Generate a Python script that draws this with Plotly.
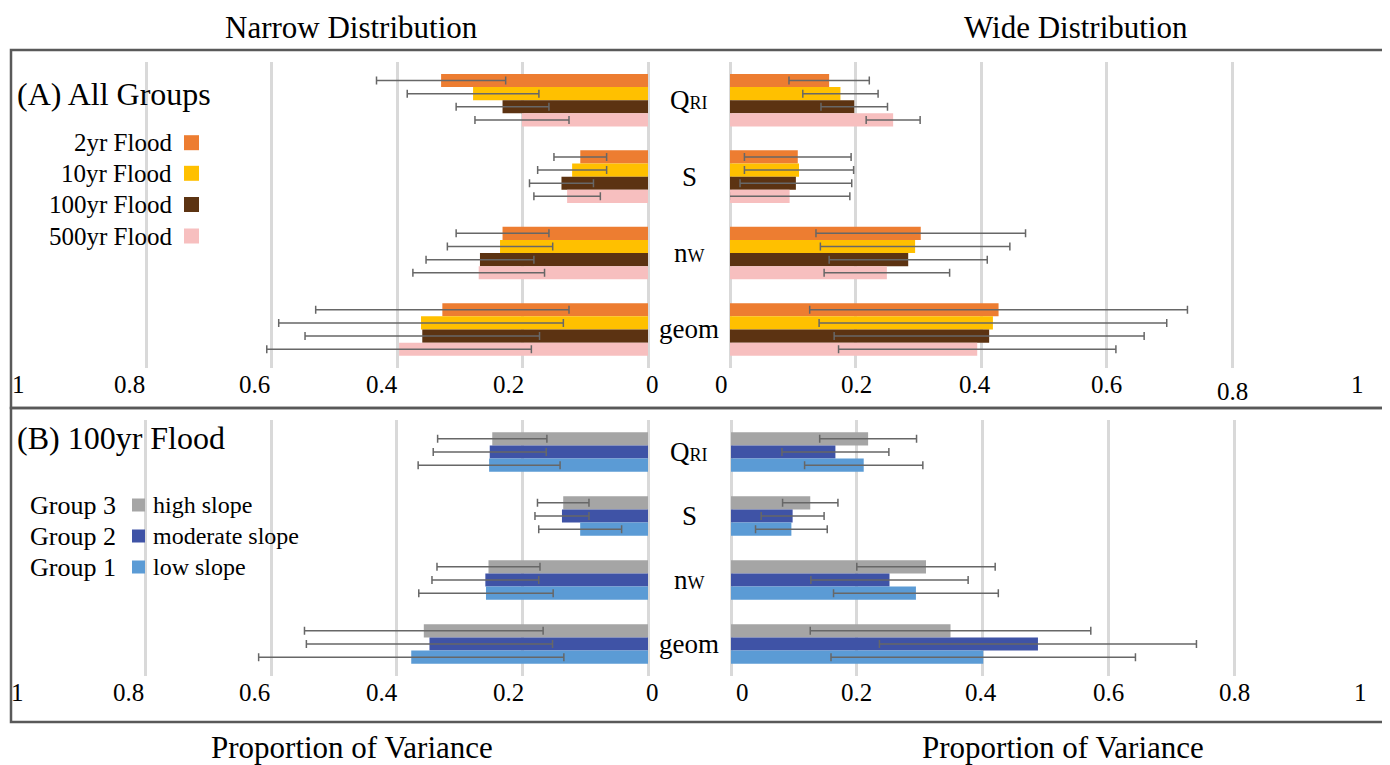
import plotly.graph_objects as go

# ---------------- data ----------------
categories = ["Q_RI", "S", "n_w", "geom"]
cat_labels = ['Q<span style="font-size:18px">RI</span>', "S",
              'n<span style="font-size:18px">W</span>', "geom"]
tick_vals = [0, 0.2, 0.4, 0.6, 0.8, 1]
tick_text = ["0", "0.2", "0.4", "0.6", "0.8", "1"]

flood_names = ["2yr Flood", "10yr Flood", "100yr Flood", "500yr Flood"]
group_names = ["Group 3", "Group 2", "Group 1"]
group_slopes = ["high slope", "moderate slope", "low slope"]

# Panel A, narrow distribution (rows: 2yr, 10yr, 100yr, 500yr)
a_narrow_mean = [[0.330, 0.108, 0.232, 0.328],
                 [0.279, 0.121, 0.236, 0.362],
                 [0.232, 0.138, 0.268, 0.360],
                 [0.201, 0.129, 0.270, 0.397]]
a_narrow_err = [[0.103, 0.042, 0.074, 0.202],
                [0.105, 0.055, 0.084, 0.227],
                [0.074, 0.051, 0.086, 0.187],
                [0.075, 0.053, 0.105, 0.211]]
# Panel A, wide distribution
a_wide_mean = [[0.158, 0.108, 0.304, 0.428],
               [0.176, 0.110, 0.295, 0.419],
               [0.198, 0.105, 0.284, 0.413],
               [0.260, 0.095, 0.250, 0.394]]
a_wide_err = [[0.064, 0.085, 0.167, 0.301],
              [0.060, 0.087, 0.151, 0.277],
              [0.053, 0.089, 0.126, 0.247],
              [0.043, 0.096, 0.100, 0.221]]
# Panel B, narrow distribution (rows: Group 3, Group 2, Group 1)
b_narrow_mean = [[0.248, 0.135, 0.254, 0.357],
                 [0.252, 0.137, 0.259, 0.348],
                 [0.253, 0.108, 0.258, 0.377]]
b_narrow_err = [[0.087, 0.041, 0.082, 0.190],
                [0.090, 0.043, 0.085, 0.196],
                [0.113, 0.066, 0.107, 0.243]]
# Panel B, wide distribution
b_wide_mean = [[0.218, 0.126, 0.310, 0.349],
               [0.166, 0.098, 0.252, 0.488],
               [0.211, 0.096, 0.294, 0.401]]
b_wide_err = [[0.077, 0.044, 0.110, 0.223],
              [0.085, 0.050, 0.125, 0.252],
              [0.094, 0.057, 0.131, 0.242]]

# ---------------- styles ----------------
flood_colors = ["#ED7D31", "#FFC000", "#5C3312", "#F7BFBF"]
group_colors = ["#A5A5A5", "#3F53A6", "#5B9BD5"]
OFF = 8                      # page body margin of the html page
W, H = 1390 - OFF, 765 - OFF
FONT = "Liberation Serif, Times New Roman, serif"
GRID = "#D9D9D9"
ERRC = "#676767"


def px(x):
    return (x - OFF) / W


def py(y):
    return 1 - (y - OFF) / H


fig = go.Figure()


def add_bars(means, errs, colors, xa, ya, bw):
    n = len(means)
    for i in range(n):
        fig.add_trace(go.Bar(
            y=categories, x=means[i], orientation="h",
            xaxis=xa, yaxis=ya,
            width=bw, offset=-n * bw / 2 + i * bw,
            marker=dict(color=colors[i], line=dict(width=0)),
            error_x=dict(type="data", array=errs[i], color=ERRC,
                         thickness=1.5, width=4),
            showlegend=False, hoverinfo="x+y",
        ))


add_bars(a_narrow_mean, a_narrow_err, flood_colors, "x", "y", 0.172)
add_bars(a_wide_mean, a_wide_err, flood_colors, "x2", "y2", 0.172)
add_bars(b_narrow_mean, b_narrow_err, group_colors, "x3", "y3", 0.207)
add_bars(b_wide_mean, b_wide_err, group_colors, "x4", "y4", 0.207)

xcommon = dict(tickvals=tick_vals, showticklabels=False, showgrid=True,
               gridcolor=GRID, gridwidth=2.5, zeroline=True,
               zerolinecolor=GRID, zerolinewidth=2.5, showline=False,
               ticks="", fixedrange=True)
ycommon = dict(categoryorder="array", categoryarray=categories,
               range=[3.5, -0.5], showticklabels=False, showgrid=False,
               zeroline=False, showline=False, ticks="", fixedrange=True)

ydomA = [py(367.7), py(62)]
ydomB = [py(676), py(420)]

fig.update_layout(
    width=W, height=H,
    margin=dict(l=0, r=0, t=0, b=0),
    paper_bgcolor="white", plot_bgcolor="rgba(0,0,0,0)",
    barmode="overlay", showlegend=False,
    font=dict(family=FONT, color="black"),
    xaxis=dict(domain=[px(21), px(648)], range=[1, 0], anchor="y", **xcommon),
    yaxis=dict(domain=ydomA, anchor="x", **ycommon),
    xaxis2=dict(domain=[px(730), px(1357.5)], range=[0, 1], anchor="y2", **xcommon),
    yaxis2=dict(domain=ydomA, anchor="x2", **ycommon),
    xaxis3=dict(domain=[px(20), px(648)], range=[1, 0], anchor="y3", **xcommon),
    yaxis3=dict(domain=ydomB, anchor="x3", **ycommon),
    xaxis4=dict(domain=[px(731), px(1360)], range=[0, 1], anchor="y4", **xcommon),
    yaxis4=dict(domain=ydomB, anchor="x4", **ycommon),
)

shapes = []
# panel boxes
for (y0, y1) in [(50, 408), (408, 722)]:
    shapes.append(dict(type="rect", xref="paper", yref="paper",
                       x0=px(11), x1=px(1386), y0=py(y1), y1=py(y0),
                       line=dict(color="#595959", width=2.5),
                       fillcolor="rgba(0,0,0,0)", layer="above"))

annotations = []


def text(x, y, s, size, xanchor="center", yanchor="middle"):
    annotations.append(dict(xref="paper", yref="paper", x=px(x), y=py(y),
                            text=s, showarrow=False, xanchor=xanchor,
                            yanchor=yanchor, borderpad=0,
                            font=dict(family=FONT, size=size, color="black")))


text(351, 9, "Narrow Distribution", 31, yanchor="top")
text(1076, 9, "Wide Distribution", 31, yanchor="top")
text(352, 747, "Proportion of Variance", 31)
text(1063, 747, "Proportion of Variance", 31)
text(16, 94, "(A) All Groups", 32, xanchor="left")
text(16, 438, "(B) 100yr Flood", 32, xanchor="left")

# tick labels of the four value axes (placed on the axes' own scales)
left_shift = [4, -14, -15, -17, -17, -3]
tick_rows = [
    ("x", 384, left_shift, [0, 0, 0, 0, 0, 0]),
    ("x2", 384, [-9, 1, -6, 0, 0, 0], [0, 0, 0, 0, -7, 0]),
    ("x3", 692, left_shift, [0, 0, 0, 0, 0, 0]),
    ("x4", 692, [11, 0, -2, 0, 0, 0], [0, 0, 0, 0, 0, 0]),
]
for xref, ypix, xs, ys in tick_rows:
    for v, t, dx, dy in zip(tick_vals, tick_text, xs, ys):
        annotations.append(dict(xref=xref, yref="paper", x=v, y=py(ypix),
                                text=t, showarrow=False, xanchor="center",
                                yanchor="middle", xshift=dx, yshift=dy,
                                font=dict(family=FONT, size=25, color="black")))

# legend A
legA_y = [142.7, 173.3, 204.5, 236]
for i, name in enumerate(flood_names):
    text(173, legA_y[i], name, 25, xanchor="right")
    shapes.append(dict(type="rect", xref="paper", yref="paper",
                       x0=px(184), x1=px(199),
                       y0=py(legA_y[i] + 7.5), y1=py(legA_y[i] - 7.5),
                       fillcolor=flood_colors[i], line=dict(width=0)))
# legend B
legB_y = [505, 536, 567]
for i, name in enumerate(group_names):
    text(117, legB_y[i], name, 26, xanchor="right")
    text(152, legB_y[i], group_slopes[i], 24, xanchor="left")
    shapes.append(dict(type="rect", xref="paper", yref="paper",
                       x0=px(132), x1=px(145),
                       y0=py(legB_y[i] + 6.5), y1=py(legB_y[i] - 6.5),
                       fillcolor=group_colors[i], line=dict(width=0)))

# category labels in the centre column
for yref in ["y", "y3"]:
    for c, lab in zip(categories, cat_labels):
        annotations.append(dict(xref="paper", yref=yref, x=px(689), y=c,
                                text=lab, showarrow=False, xanchor="center",
                                yanchor="middle",
                                font=dict(family=FONT, size=27, color="black")))

fig.update_layout(shapes=shapes, annotations=annotations)
fig.write_html("out.html")
